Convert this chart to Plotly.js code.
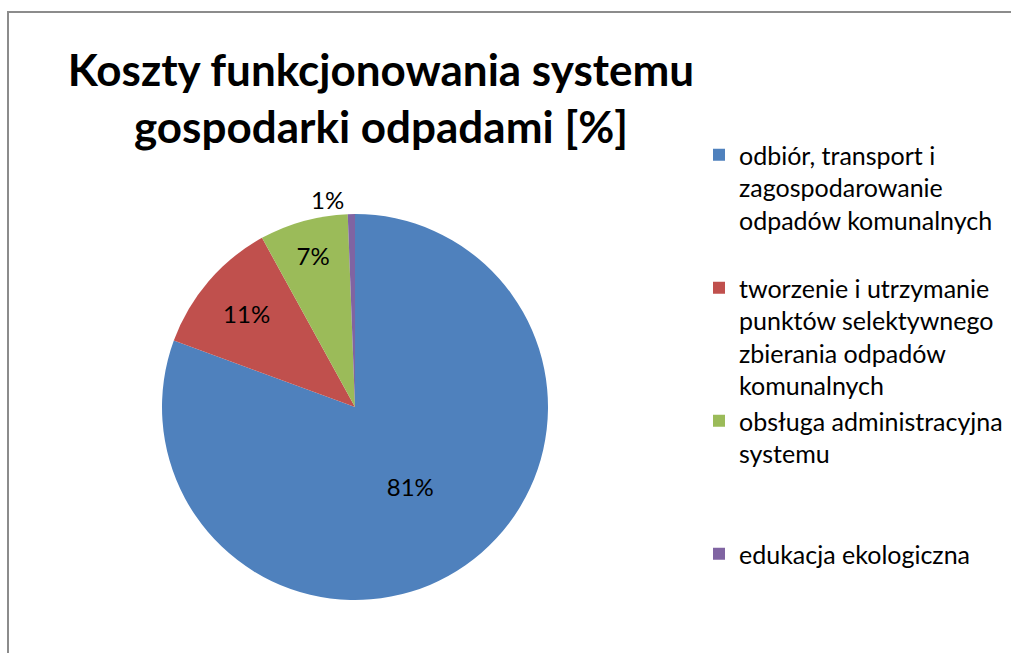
<!DOCTYPE html>
<html>
<head>
<meta charset="utf-8">
<script src="https://cdn.plot.ly/plotly-3.0.1.min.js"></script>
<style>
  html, body { margin: 0; padding: 0; background: #fff; }
  #chart { width: 1011px; height: 653px; }
</style>
</head>
<body>
<div id="chart"></div>
<script>
// Koszty funkcjonowania systemu gospodarki odpadami [%]
const categories = [
    'odbiór, transport i<br>zagospodarowanie<br>odpadów komunalnych',
    'tworzenie i utrzymanie<br>punktów selektywnego<br>zbierania odpadów<br>komunalnych',
    'obsługa administracyjna<br>systemu',
    'edukacja ekologiczna'
];
const shares = [80.6, 11.4, 7.4, 0.6];
const sliceColors = ['#4F81BD', '#C0504D', '#9BBB59', '#8064A2'];
const labelPositions = ['inside', 'inside', 'inside', 'outside'];

const FONT = 'Lato, "Open Sans", sans-serif';

// every legend entry (but the last) takes the same number of rows, like the original
function padLines(label, rows) {
    let n = label.split('<br>').length;
    let out = label;
    while (n < rows) { out += '<br> '; n++; }
    return out;
}

const trace = {
    type: 'pie',
    labels: categories.map((c, i) => i < categories.length - 1 ? padLines(c, 4) : c),
    values: shares,
    sort: false,
    direction: 'clockwise',
    rotation: 0,
    marker: { colors: sliceColors, line: { width: 0 } },
    texttemplate: '%{percent:.0%}',
    textposition: labelPositions,
    insidetextorientation: 'horizontal',
    textfont: { family: FONT, size: 24, color: '#000' },
    domain: { x: [162 / 1011, 548 / 1011], y: [1 - 600 / 653, 1 - 214 / 653] },
    hoverinfo: 'label+percent'
};

const layout = {
    width: 1011,
    height: 653,
    margin: { l: 0, r: 0, t: 0, b: 0, autoexpand: false },
    paper_bgcolor: '#fff',
    font: { family: FONT, color: '#000' },
    title: {
        text: 'Koszty funkcjonowania systemu<br>gospodarki odpadami [%]',
        font: { family: FONT, size: 44, weight: 'bold', color: '#000' },
        x: 381 / 1011,
        xanchor: 'center',
        xref: 'paper',
        y: 1 - 86 / 653,
        yanchor: 'top',
        yref: 'paper',
        automargin: false
    },
    legend: {
        x: 699 / 1011,
        xanchor: 'left',
        y: 1 - 132 / 653,
        yanchor: 'top',
        valign: 'top',
        font: { family: FONT, size: 25, color: '#000' },
        itemwidth: 30,
        bgcolor: 'rgba(0,0,0,0)'
    },
    showlegend: true,
    shapes: [{
        type: 'rect', xref: 'paper', yref: 'paper',
        x0: 8 / 1011, x1: 1.05, y0: -0.05, y1: 1 - 12 / 653,
        line: { color: '#8c8c8c', width: 2 }
    }]
};

Plotly.newPlot('chart', [trace], layout, { displayModeBar: false, staticPlot: true });
</script>
</body>
</html>
